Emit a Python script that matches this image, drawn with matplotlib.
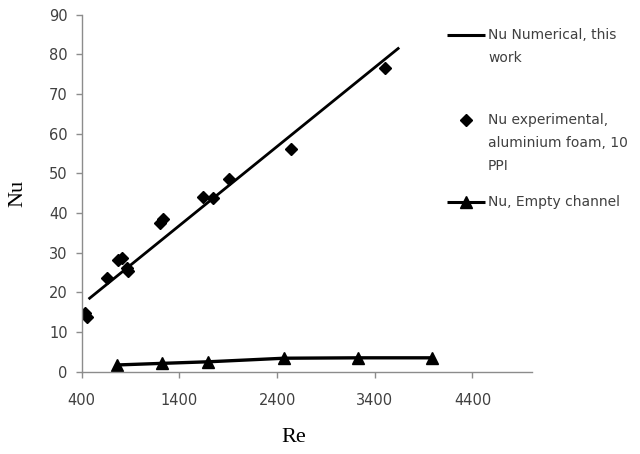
import matplotlib
matplotlib.use("Agg")
import matplotlib.pyplot as plt
from matplotlib.lines import Line2D

# Numerical prediction (straight line)
re_num = [470, 3650]
nu_num = [18.3, 81.7]

# Experimental points, aluminium foam 10 PPI
re_exp = [434, 451, 656, 768, 809, 867, 870, 1201, 1229, 1638, 1747, 1908, 2542, 3504]
nu_exp = [14.7, 13.7, 23.7, 28.2, 28.6, 26.2, 25.3, 37.6, 38.4, 44.0, 43.7, 48.7, 56.1, 76.5]

# Empty channel
re_empty = [765, 1219, 1696, 2474, 3225, 3988]
nu_empty = [1.7, 2.1, 2.5, 3.4, 3.5, 3.5]

x_ticks = [400, 1400, 2400, 3400, 4400]
y_ticks = [0, 10, 20, 30, 40, 50, 60, 70, 80, 90]

labels = ["Nu Numerical, this\nwork",
          "Nu experimental,\naluminium foam, 10\nPPI",
          "Nu, Empty channel"]

W, H = 640, 454
fig = plt.figure(figsize=(W / 100, H / 100), dpi=100)
ax = fig.add_axes([81.7 / W, 1 - 371.7 / H, (531.7 - 81.7) / W, (371.7 - 14.7) / H])

ax.plot(re_num, nu_num, color="black", lw=2.0, solid_capstyle="butt")
ax.plot(re_exp, nu_exp, ls="none", marker="D", ms=6.5, color="black")
ax.plot(re_empty, nu_empty, color="black", lw=2.4, marker="^", ms=8)

ax.set_xlim(400, 5006)
ax.set_ylim(0, 90)
ax.set_xticks(x_ticks)
ax.set_yticks(y_ticks)

tick_font = dict(family="DejaVu Sans", size=10.5, color="#404040")
ax.set_xticklabels([str(t) for t in x_ticks], **tick_font)
ax.set_yticklabels([str(t) for t in y_ticks], **tick_font)

for side in ("top", "right"):
    ax.spines[side].set_visible(False)
for side in ("left", "bottom"):
    ax.spines[side].set_color("#8c8c8c")
    ax.spines[side].set_linewidth(1.0)
ax.tick_params(axis="both", direction="out", length=4, width=1.0, color="#8c8c8c")
ax.tick_params(axis="x", pad=11)
ax.tick_params(axis="y", pad=6)

ax.set_xlabel("Re", family="Liberation Serif", size=16, va="top")
ax.xaxis.set_label_coords((294 - 81.7) / 450, (371.7 - 428) / 357)
ax.set_ylabel("Nu", family="Liberation Serif", size=16)
ax.yaxis.set_label_coords((27 - 81.7) / 450, 0.5)


def fp(x, y):
    return (x / W, 1 - y / H)


# Legend drawn in figure space
handles = [
    dict(y=35, marker=None, line=True),
    dict(y=120, marker="D", line=False),
    dict(y=202, marker="^", line=True),
]
for h, lab in zip(handles, labels):
    x0, y0 = fp(447, h["y"])
    x1, _ = fp(485, h["y"])
    if h["line"]:
        fig.add_artist(Line2D([x0, x1], [y0, y0], transform=fig.transFigure,
                              color="black", lw=2.2, solid_capstyle="butt"))
    if h["marker"]:
        xm, _ = fp(465.5, h["y"])
        fig.add_artist(Line2D([xm], [y0], transform=fig.transFigure, ls="none",
                              marker=h["marker"], ms=6.5 if h["marker"] == "D" else 8,
                              color="black"))
    tx, ty = fp(488, h["y"] - 7)
    fig.text(tx, ty, lab, ha="left", va="top", family="DejaVu Sans", size=10,
             color="#404040", linespacing=1.8)

fig.savefig("out.png", dpi=100)
